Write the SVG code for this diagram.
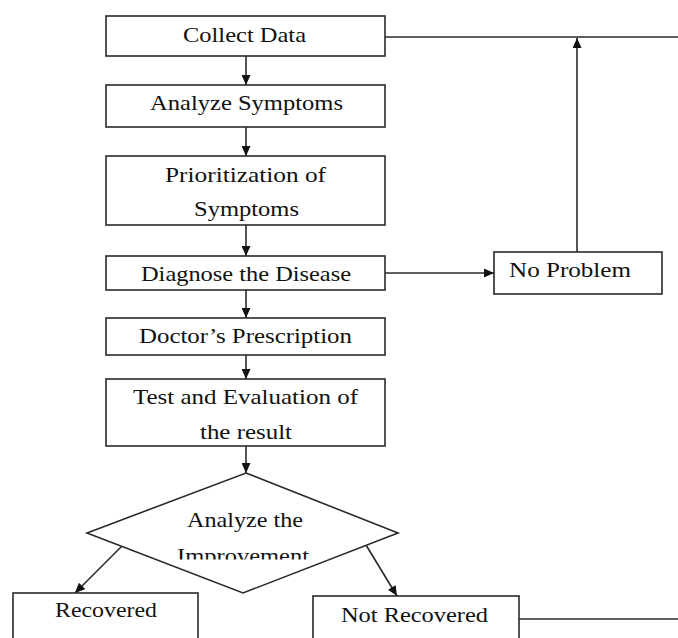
<svg xmlns="http://www.w3.org/2000/svg" width="678" height="638" viewBox="0 0 678 638">
<defs>
<marker id="ah" markerUnits="userSpaceOnUse" markerWidth="10" markerHeight="9" refX="10" refY="4.5" orient="auto">
<path d="M0,0 L10,4.5 L0,9 z" fill="#111"/>
</marker>
<clipPath id="dclip"><rect x="0" y="440" width="678" height="119.5"/></clipPath>
</defs>
<style>
.box{fill:#fff;stroke:#2a2a2a;stroke-width:1.6}
.t{font-family:"Liberation Serif","Times New Roman",serif;font-size:21px;fill:#111}
.c{fill:none;stroke:#2a2a2a;stroke-width:1.6}
.a{marker-end:url(#ah)}
</style>
<rect width="678" height="638" fill="#fff"/>
<g id="connectors">
<line class="c" x1="385" y1="37" x2="678" y2="37"/>
<line class="c a" x1="577" y1="252" x2="577" y2="38"/>
<line class="c a" x1="246" y1="56" x2="246" y2="85"/>
<line class="c a" x1="246" y1="127" x2="246" y2="156"/>
<line class="c a" x1="246" y1="225" x2="246" y2="256"/>
<line class="c a" x1="385" y1="273" x2="494" y2="273"/>
<line class="c a" x1="246" y1="290" x2="246" y2="318"/>
<line class="c a" x1="246" y1="355" x2="246" y2="379"/>
<line class="c a" x1="246" y1="446" x2="246" y2="473"/>
<line class="c a" x1="122" y1="546" x2="75" y2="593"/>
<line class="c a" x1="366" y1="545" x2="397" y2="596"/>
<line class="c" x1="519" y1="619" x2="678" y2="619"/>
</g>
<g id="collect-data">
<rect class="box" x="106" y="16" width="279" height="40"/>
<text class="t" x="183" y="42" textLength="123" lengthAdjust="spacingAndGlyphs">Collect Data</text>
</g>
<g id="analyze-symptoms">
<rect class="box" x="106" y="85" width="279" height="42"/>
<text class="t" x="150" y="110" textLength="193" lengthAdjust="spacingAndGlyphs">Analyze Symptoms</text>
</g>
<g id="prioritization">
<rect class="box" x="106" y="156" width="279" height="69"/>
<text class="t" x="165" y="182" textLength="161" lengthAdjust="spacingAndGlyphs">Prioritization of</text>
<text class="t" x="194" y="216" textLength="105" lengthAdjust="spacingAndGlyphs">Symptoms</text>
</g>
<g id="diagnose">
<rect class="box" x="106" y="256" width="279" height="34"/>
<text class="t" x="141" y="281" textLength="210" lengthAdjust="spacingAndGlyphs">Diagnose the Disease</text>
</g>
<g id="no-problem">
<rect class="box" x="494" y="252" width="168" height="42"/>
<text class="t" x="509" y="277" textLength="122" lengthAdjust="spacingAndGlyphs">No Problem</text>
</g>
<g id="prescription">
<rect class="box" x="106" y="318" width="279" height="37"/>
<text class="t" x="139" y="343" textLength="213" lengthAdjust="spacingAndGlyphs">Doctor’s Prescription</text>
</g>
<g id="test-evaluation">
<rect class="box" x="106" y="379" width="279" height="67"/>
<text class="t" x="133" y="404" textLength="225" lengthAdjust="spacingAndGlyphs">Test and Evaluation of</text>
<text class="t" x="200" y="439" textLength="92" lengthAdjust="spacingAndGlyphs">the result</text>
</g>
<g id="analyze-improvement">
<polygon class="box" points="246,473 398,533 243,593 87,533"/>
<text class="t" x="187" y="527" textLength="116" lengthAdjust="spacingAndGlyphs">Analyze the</text>
<text class="t" x="177" y="563" textLength="132" lengthAdjust="spacingAndGlyphs" clip-path="url(#dclip)">Improvement</text>
</g>
<g id="recovered">
<rect class="box" x="13" y="593" width="185" height="60"/>
<text class="t" x="55" y="617" textLength="102" lengthAdjust="spacingAndGlyphs">Recovered</text>
</g>
<g id="not-recovered">
<rect class="box" x="313" y="596" width="206" height="60"/>
<text class="t" x="341" y="622" textLength="147" lengthAdjust="spacingAndGlyphs">Not Recovered</text>
</g>
</svg>
